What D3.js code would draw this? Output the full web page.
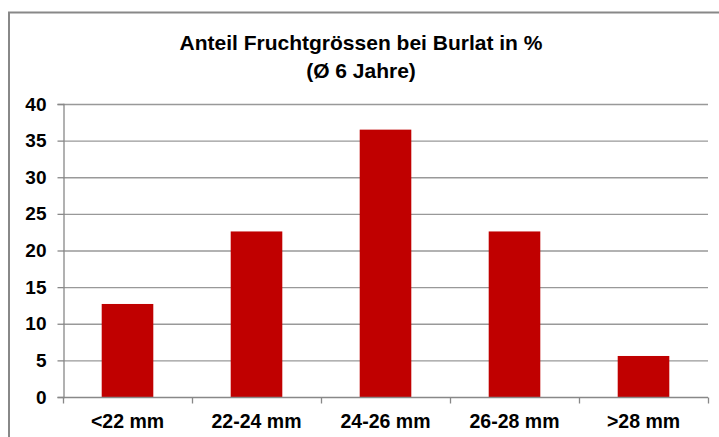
<!DOCTYPE html>
<html><head><meta charset="utf-8">
<script src="https://cdn.jsdelivr.net/npm/d3@7"></script>
<style>body{margin:0;background:#fff;} svg{display:block;font-family:"Liberation Sans",Arial,sans-serif;}</style>
</head><body>
<script>
const categories = ["<22 mm","22-24 mm","24-26 mm","26-28 mm",">28 mm"];
const values = [12.7, 22.6, 36.5, 22.6, 5.6];
const yTicks = [0,5,10,15,20,25,30,35,40];
const titleLines = ["Anteil Fruchtgrössen bei Burlat in %","(Ø 6 Jahre)"];

const W = 719, H = 437;
const svg = d3.select("body").append("svg").attr("width", W).attr("height", H);

// outer frame
svg.append("path").attr("d", `M9,437 V12.5 H719`).attr("fill","none").attr("stroke","#888").attr("stroke-width",2);

const x = d3.scaleBand().domain(categories).range([63, 708]).paddingInner(0.6).paddingOuter(0.3);
const y = d3.scaleLinear().domain([0,40]).range([397, 104]);

// gridlines
svg.append("g").selectAll("line").data(yTicks.filter(d=>d>0)).join("line")
  .attr("x1",63).attr("x2",708).attr("y1",d=>y(d)+0.5).attr("y2",d=>y(d)+0.5)
  .attr("stroke","#999").attr("stroke-width",1.3);

// bars
svg.append("g").selectAll("rect").data(values).join("rect")
  .attr("x",(d,i)=>x(categories[i])).attr("width",x.bandwidth())
  .attr("y",d=>y(d)).attr("height",d=>y(0)-y(d))
  .attr("fill","#c00000");

// y axis
const yAxis = svg.append("g").attr("transform","translate(63.5,0)")
  .call(d3.axisLeft(y).tickValues(yTicks).tickSize(6).tickPadding(11));
yAxis.select(".domain").attr("stroke","#888").attr("stroke-width",1.3);
yAxis.selectAll(".tick line").attr("stroke","#888").attr("stroke-width",1.3);
yAxis.selectAll("text").attr("font-size",19).attr("font-weight","bold").attr("fill","#000")
  .attr("font-family","'Liberation Sans',Arial,sans-serif");

// x axis
const xAxis = svg.append("g").attr("transform",`translate(0,${y(0)+0.5})`)
  .call(d3.axisBottom(x).tickSize(0).tickPadding(17));
xAxis.select(".domain").attr("d","M63.5,0H708").attr("stroke","#888").attr("stroke-width",1.3);
xAxis.selectAll("text").attr("font-size",19.5).attr("font-weight","bold").attr("fill","#000")
  .attr("font-family","'Liberation Sans',Arial,sans-serif");
// category boundary ticks
const bounds = d3.range(categories.length+1).map(i => 63 + i*(708-63)/categories.length);
xAxis.append("g").selectAll("line").data(bounds).join("line")
  .attr("x1",d=>Math.round(d)+0.5).attr("x2",d=>Math.round(d)+0.5).attr("y1",0).attr("y2",6)
  .attr("stroke","#888").attr("stroke-width",1.3);

// title
svg.append("g").selectAll("text").data(titleLines).join("text")
  .attr("x",361).attr("y",(d,i)=>50+i*28).attr("text-anchor","middle")
  .attr("font-size",21).attr("font-weight","bold").attr("fill","#000").text(d=>d);
</script>
</body></html>
